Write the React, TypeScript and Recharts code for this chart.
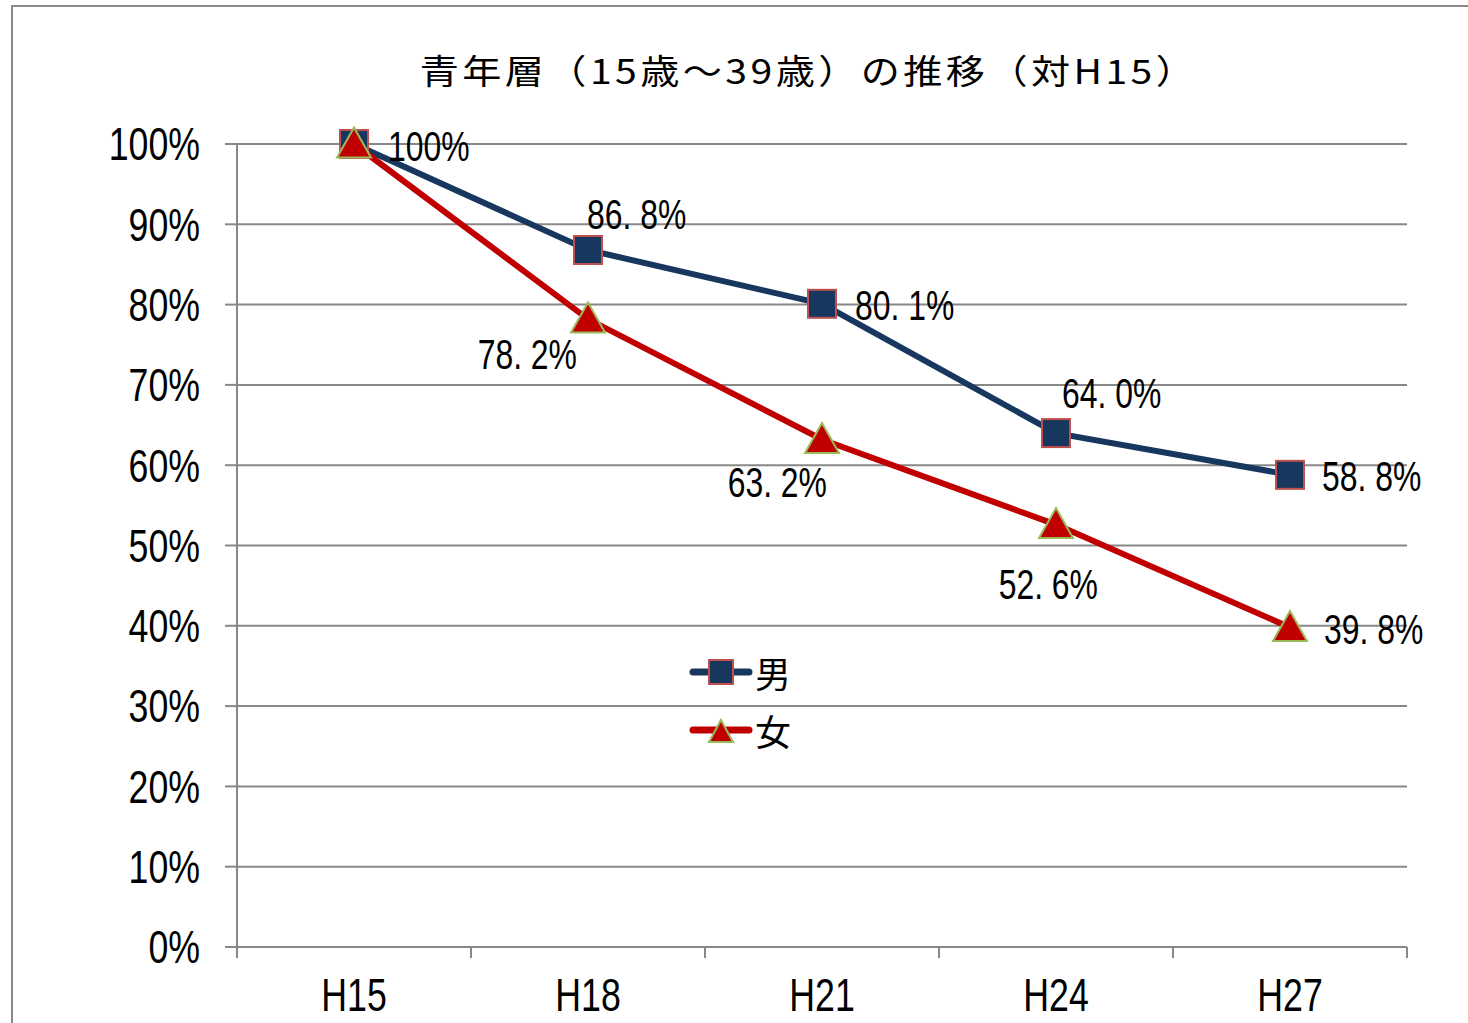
import React from "react";
import { LineChart, Line, XAxis, YAxis, CartesianGrid, LabelList } from "recharts";

const categories = ["H15", "H18", "H21", "H24", "H27"];
const maleValues = [100, 86.8, 80.1, 64.0, 58.8];
const femaleValues = [100, 78.2, 63.2, 52.6, 39.8];
const yTicks = [0, 10, 20, 30, 40, 50, 60, 70, 80, 90, 100];
const titleText = "青年層（15歳～39歳）の推移（対H15）";
const maleName = "男";
const femaleName = "女";

const data = categories.map((c, i) => ({ cat: c, male: maleValues[i], female: femaleValues[i] }));

const W = 1468;
const H = 1023;
const M = { top: 144, right: 61, left: 0, bottom: 0 };
const Y_AXIS_W = 237;
const X_AXIS_H = 76;
const BAND = (W - Y_AXIS_W - M.right) / categories.length;

const NUMFONT = "'Liberation Sans', Arial, sans-serif";
const SQUEEZE = 0.76;
const JP = "'Noto Sans CJK JP', sans-serif";
const GRID = "#888888";
const MALE_LINE = "#17375E";
const MALE_STROKE = "#C0504D";
const FEMALE_LINE = "#C00000";
const FEMALE_STROKE = "#9BBB59";

type Place = { dx: number; dy: number; anchor: "start" | "end" | "middle" } | null;
const malePlaces: Place[] = [
  { dx: 34, dy: 2, anchor: "start" },
  { dx: -1, dy: -36, anchor: "start" },
  { dx: 33, dy: 2, anchor: "start" },
  { dx: 6, dy: -40, anchor: "start" },
  { dx: 32, dy: 2, anchor: "start" },
];
const femalePlaces: Place[] = [
  null,
  { dx: -11, dy: 35, anchor: "end" },
  { dx: 5, dy: 43, anchor: "end" },
  { dx: 42, dy: 60, anchor: "end" },
  { dx: 34, dy: 2, anchor: "start" },
];

const fmt = (v: number) => (v === 100 ? "100%" : v.toFixed(1).replace(".", ". ") + "%");

const NarrowText = ({ x, y, anchor, size, children }: any) => (
  <text
    transform={`translate(${x},${y}) scale(${SQUEEZE},1)`}
    x={0}
    y={0}
    textAnchor={anchor}
    dominantBaseline="central"
    fontFamily={NUMFONT}
    fontSize={size}
    fill="#000"
  >
    {children}
  </text>
);

const makeLabel = (places: Place[]) => (props: any) => {
  const { x, y, value, index } = props;
  const p = places[index];
  if (!p) return null;
  return (
    <NarrowText x={x + p.dx} y={y + p.dy} anchor={p.anchor} size={42}>
      {fmt(value)}
    </NarrowText>
  );
};

const SquareDot = (props: any) => {
  const { cx, cy, index } = props;
  const s = 28;
  return (
    <rect
      key={"sq" + index}
      x={cx - s / 2}
      y={cy - s / 2}
      width={s}
      height={s}
      fill={MALE_LINE}
      stroke={MALE_STROKE}
      strokeWidth={2}
    />
  );
};

const triPath = (cx: number, cy: number, w: number, h: number) =>
  `M${cx},${cy - h * 0.55} L${cx + w / 2},${cy + h * 0.45} L${cx - w / 2},${cy + h * 0.45} Z`;

const TriDot = (props: any) => {
  const { cx, cy, index } = props;
  return (
    <path
      key={"tri" + index}
      d={triPath(cx, cy, 34, 30)}
      fill={FEMALE_LINE}
      stroke={FEMALE_STROKE}
      strokeWidth={2}
    />
  );
};

const XTick = (props: any) => {
  const { x, y, payload, index } = props;
  const left = x - BAND / 2;
  const right = x + BAND / 2;
  return (
    <g>
      <line x1={left} y1={y} x2={left} y2={y + 11} stroke={GRID} strokeWidth={2} />
      {index === categories.length - 1 && (
        <line x1={right} y1={y} x2={right} y2={y + 11} stroke={GRID} strokeWidth={2} />
      )}
      <NarrowText x={x} y={y + 48} anchor="middle" size={47}>
        {payload.value}
      </NarrowText>
    </g>
  );
};

const YTick = (props: any) => {
  const { x, y, payload } = props;
  return (
    <NarrowText x={x} y={y} anchor="end" size={47}>
      {`${payload.value}%`}
    </NarrowText>
  );
};

const LegendBox = () => {
  const rows = [
    { name: maleName, color: MALE_LINE, kind: "sq" },
    { name: femaleName, color: FEMALE_LINE, kind: "tri" },
  ];
  return (
    <div style={{ position: "absolute", left: 689, top: 643, display: "flex", flexDirection: "column" }}>
      {rows.map((r) => (
        <div key={r.name} style={{ display: "flex", alignItems: "center", height: 58 }}>
          <svg width={64} height={40} style={{ display: "block" }}>
            <line x1={4} y1={20} x2={60} y2={20} stroke={r.color} strokeWidth={7} strokeLinecap="round" />
            {r.kind === "sq" ? (
              <rect x={20} y={8} width={24} height={24} fill={MALE_LINE} stroke={MALE_STROKE} strokeWidth={2} />
            ) : (
              <path d={triPath(32, 22, 24, 22)} fill={FEMALE_LINE} stroke={FEMALE_STROKE} strokeWidth={2} />
            )}
          </svg>
          <span style={{ fontFamily: JP, fontSize: 36, lineHeight: 1, marginLeft: 2, color: "#000" }}>{r.name}</span>
        </div>
      ))}
    </div>
  );
};

export default function App() {
  return (
    <div
      style={{
        position: "fixed",
        left: 0,
        top: 0,
        width: W,
        height: H,
        overflow: "hidden",
        background: "#fff",
      }}
    >
      <div
        style={{
          position: "absolute",
          left: 11,
          top: 5,
          width: W + 40,
          height: H + 40,
          borderLeft: "2px solid #8a8a8a",
          borderTop: "2px solid #8a8a8a",
        }}
      />
      <div style={{ position: "absolute", left: 0, top: 0 }}>
        <LineChart width={W} height={H} data={data} margin={M}>
          <CartesianGrid horizontal={true} vertical={false} stroke={GRID} strokeWidth={2} />
          <XAxis
            dataKey="cat"
            scale="band"
            height={X_AXIS_H}
            axisLine={{ stroke: GRID, strokeWidth: 2 }}
            tickLine={false}
            tickSize={0}
            tickMargin={0}
            tick={<XTick />}
            interval={0}
          />
          <YAxis
            width={Y_AXIS_W}
            domain={[0, 100]}
            ticks={yTicks}
            interval={0}
            axisLine={{ stroke: GRID, strokeWidth: 2 }}
            tickLine={{ stroke: GRID, strokeWidth: 2 }}
            tickSize={12}
            tickMargin={25}
            tick={<YTick />}
          />
          <Line
            dataKey="male"
            name={maleName}
            stroke={MALE_LINE}
            strokeWidth={6}
            dot={SquareDot}
            activeDot={false}
            isAnimationActive={false}
          >
            <LabelList dataKey="male" content={makeLabel(malePlaces)} />
          </Line>
          <Line
            dataKey="female"
            name={femaleName}
            stroke={FEMALE_LINE}
            strokeWidth={6}
            dot={TriDot}
            activeDot={false}
            isAnimationActive={false}
          >
            <LabelList dataKey="female" content={makeLabel(femalePlaces)} />
          </Line>
        </LineChart>
      </div>
      <div
        style={{
          position: "absolute",
          left: 209,
          width: 1200,
          top: 48,
          textAlign: "center",
          fontFamily: JP,
          fontSize: 34,
          letterSpacing: 3,
          lineHeight: "44px",
          color: "#000",
          whiteSpace: "nowrap",
          transform: "scaleX(1.15)",
          transformOrigin: "center",
        }}
      >
        {titleText}
      </div>
      <LegendBox />
    </div>
  );
}
